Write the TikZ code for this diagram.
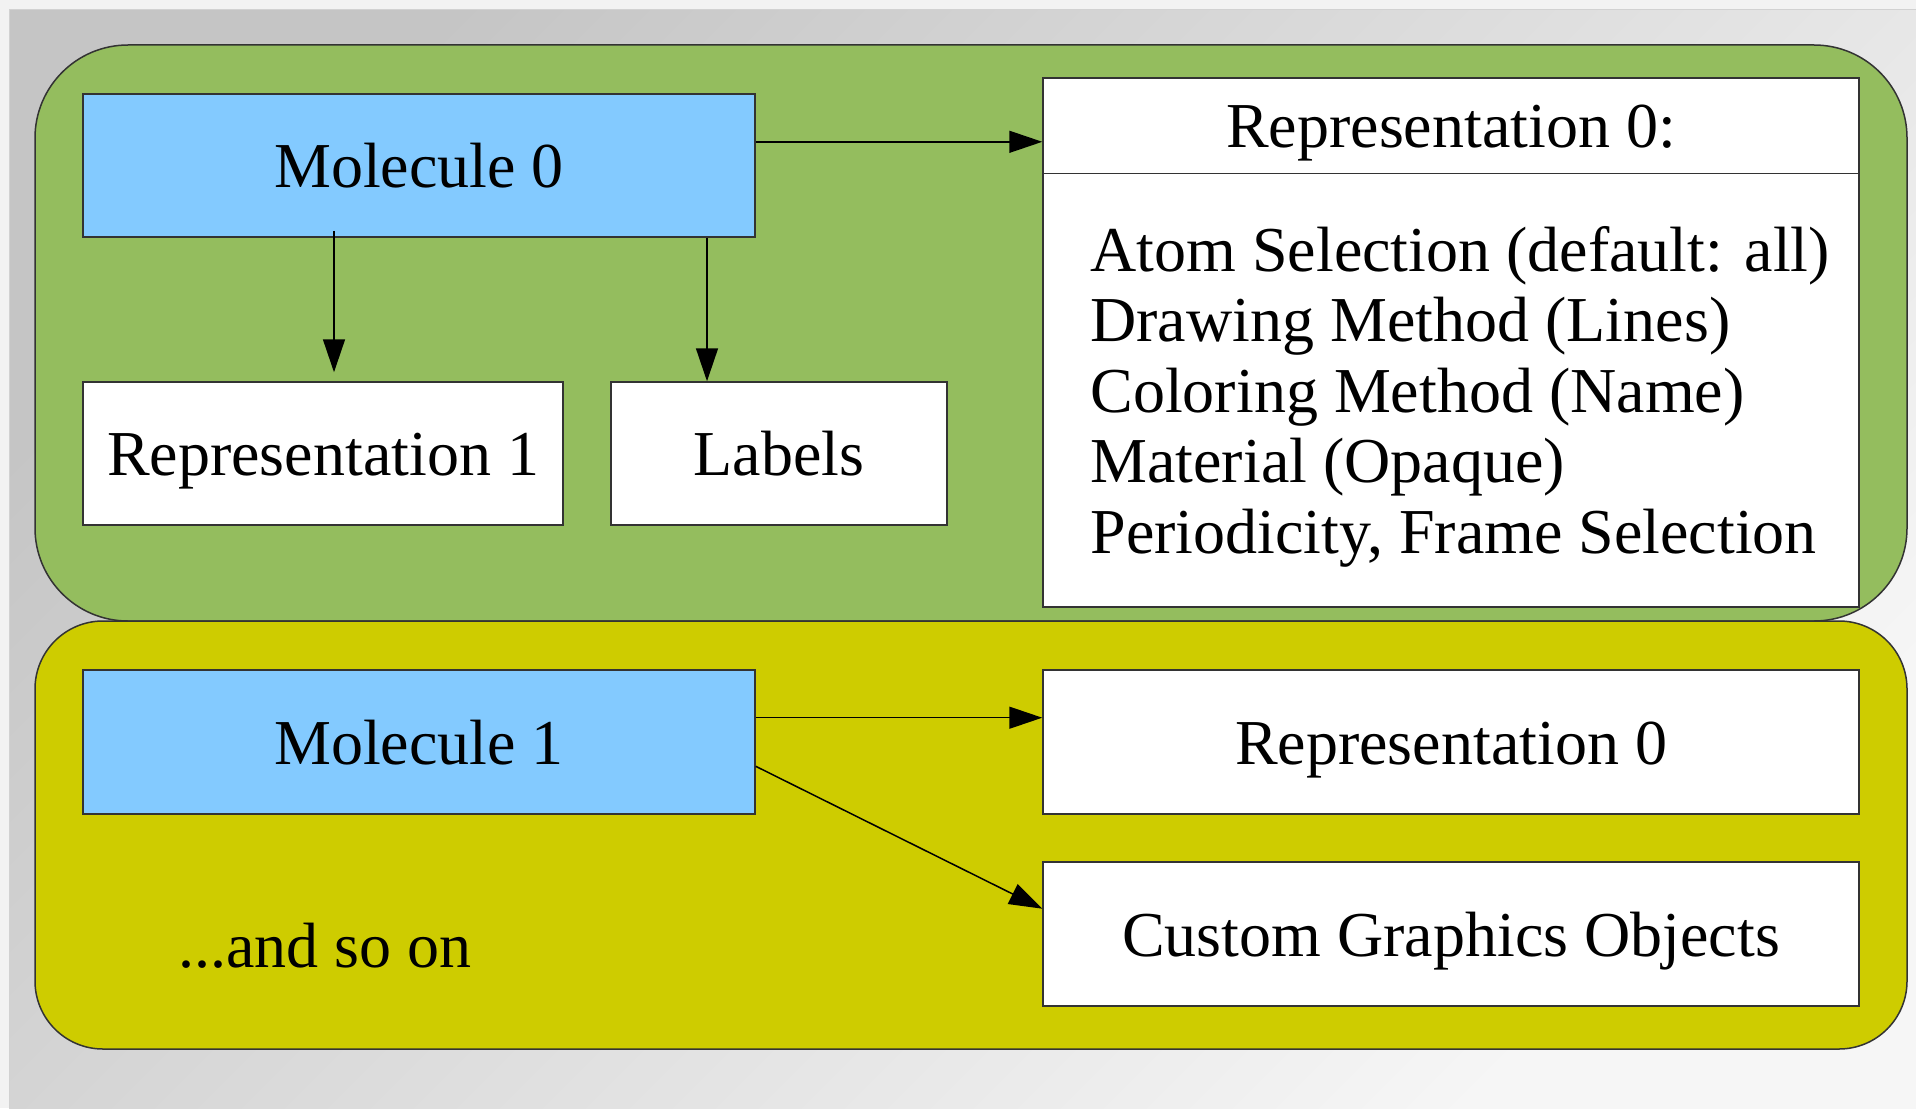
\documentclass[tikz,border=0pt]{standalone}
\usepackage{fontspec}
\setmainfont{Liberation Serif}
\usetikzlibrary{arrows.meta,calc,shadings}
\definecolor{grpgreen}{HTML}{94BD5E}
\definecolor{grpyellow}{HTML}{CECC00}
\definecolor{molblue}{HTML}{83CAFF}
\definecolor{edgecol}{HTML}{333333}
\definecolor{bgdark}{HTML}{C5C5C5}
\definecolor{bglight}{HTML}{F6F6F6}
\definecolor{outsidecol}{HTML}{F2F2F2}
\begin{document}
\begin{tikzpicture}[x=1pt,y=-1pt,
  every node/.style={font=\fontsize{64}{70.5}\selectfont},
  box/.style={draw=edgecol, line width=1.5pt, inner sep=0pt, rectangle,
              text height=46pt, text depth=2pt},
  grp/.style={draw=edgecol, line width=1.5pt, inner sep=0pt, rectangle},
  arr/.style={draw=black, line width=1.5pt, -{Triangle[length=33pt,width=22pt]}},
]
\useasboundingbox (0,0) rectangle (1916,1108);
\fill[outsidecol] (0,0) rectangle (1916,1108);
\shade[top color=bgdark, bottom color=bglight, shading angle=45] (9,10) rectangle (1916,1108);
\draw[line width=1pt, black!18] (9,1108) -- (9,10) -- (1916,10);

% group containers
\node[grp, fill=grpgreen, rounded corners=93pt, minimum width=1872pt, minimum height=576pt] (grp0) at (971,333) {};
\node[grp, fill=grpyellow, rounded corners=68pt, minimum width=1872pt, minimum height=428pt] (grp1) at (971,835) {};

% molecule 0 group
\node[box, fill=molblue, minimum width=672pt, minimum height=143pt] (mol0) at (419,165.5) {Molecule 0};
\node[box, fill=white, minimum width=480pt, minimum height=143pt] (rep1) at (323,453.5) {Representation 1};
\node[box, fill=white, minimum width=336pt, minimum height=143pt] (labels) at (779,453.5) {Labels};
\node[grp, fill=white, minimum width=816pt, minimum height=529pt] (rep0) at (1451,342.5) {};
\draw[edgecol, line width=1.5pt] ($(rep0.north west)+(0,96)$) -- ($(rep0.north east)+(0,96)$);
\node[anchor=base, inner sep=0pt] (rep0title) at ($(rep0.north)+(0,70)$) {Representation 0:};
\node[anchor=base west, inner sep=0pt] (rep0list) at ($(rep0.north west)+(48,194)$)
  {\begin{tabular}[t]{@{}l@{}}
   Atom Selection (default: all)\\
   Drawing Method (Lines)\\
   Coloring Method (Name)\\
   Material (Opaque)\\
   Periodicity, Frame Selection
   \end{tabular}};

% molecule 1 group
\node[box, fill=molblue, minimum width=672pt, minimum height=144pt] (mol1) at (419,742) {Molecule 1};
\node[box, fill=white, minimum width=816pt, minimum height=144pt] (rep0b) at (1451,742) {Representation 0};
\node[box, fill=white, minimum width=816pt, minimum height=144pt] (custom) at (1451,934) {Custom Graphics Objects};
\node[anchor=base, inner sep=0pt] (andso) at (325,967) {...and so on};

% connectors
\draw[arr] ($(mol0.north east)!0.336!(mol0.south east)$) coordinate (a1) -- (a1 -| rep0.west);
\draw[arr] ([xshift=11pt,yshift=7pt]rep1.north |- mol0.south) -- ([xshift=11pt,yshift=9pt]rep1.north);
\draw[arr] ([xshift=-72pt]labels.north |- mol0.south) -- ([xshift=-72pt]labels.north);
\draw[arr] ($(mol1.north east)!0.333!(mol1.south east)$) coordinate (a2) -- (a2 -| rep0b.west);
\draw[arr] ($(mol1.north east)!0.667!(mol1.south east)$) -- ($(custom.north west)!0.326!(custom.south west)$);
\end{tikzpicture}
\end{document}
